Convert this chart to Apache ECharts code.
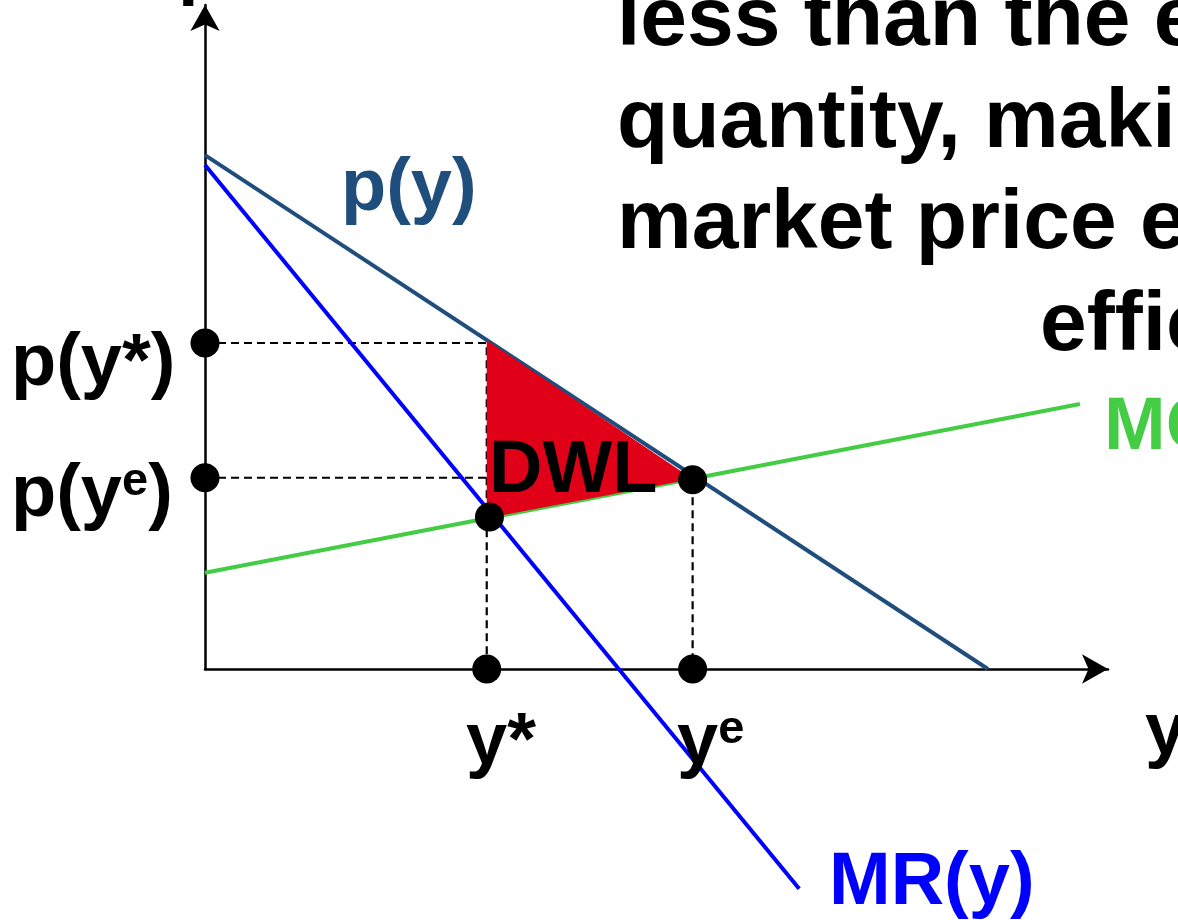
<!DOCTYPE html>
<html>
<head>
<meta charset="utf-8">
<script src="https://cdn.jsdelivr.net/npm/echarts@6/dist/echarts.min.js"></script>
<style>
  html, body { margin: 0; padding: 0; background: #ffffff; }
  #chart { width: 1178px; height: 920px; }
</style>
</head>
<body>
<div id="chart"></div>
<script>
// ---- data (arbitrary units 0..100) ----
const xRange = [0, 100];
const yRange = [0, 100];
const demandPts = [[0, 77.4], [86.7, 0]];        // p(y)
const mrPts = [[0, 75.9], [65.8, -33.1]];        // MR(y)
const mcPts = [[0, 14.5], [96.9, 39.9]];         // MC
const yStar = 31.2, yE = 54.0;                   // quantities
const pStar = 49.1, pE = 28.8;                   // prices
const dwlVertices = [[31.2, 49.5], [54.0, 28.6], [31.2, 22.7]];
const axisDots = [[0, pStar], [0, pE], [yStar, 0], [yE, 0]];
const curveDots = [[31.5, 22.9], [54.0, 28.5]];
const dashStar = [[0, pStar], [yStar, pStar], [yStar, 0]];
const dashE = [[0, pE], [yE, pE], [yE, 0]];
const titleLines = ['less than the efficient', 'quantity, making the', 'market price exceed the', 'efficient market price.'];

const FONT = '"Liberation Sans", Arial, Helvetica, sans-serif';
const LBL = 74;
const chart = echarts.init(document.getElementById('chart'), null, { renderer: 'canvas' });

function txt(text, x, baseline, size, color) {
  return {
    type: 'text', z: 100,
    style: {
      text: text, x: x, y: baseline - 0.22 * size,
      fill: color, font: 'bold ' + size + 'px ' + FONT,
      align: 'left', verticalAlign: 'middle'
    }
  };
}
function supTxt(main, sup, tail, x, baseline, color) {
  return {
    type: 'text', z: 100,
    style: {
      text: '{b|' + main + '}{s|' + sup + '}{b|' + tail + '}',
      x: x, y: baseline - 0.22 * LBL, align: 'left', verticalAlign: 'middle',
      rich: {
        b: { fontSize: LBL, lineHeight: LBL, fontWeight: 'bold', fontFamily: FONT, fill: color, color: color },
        s: { fontSize: 47, lineHeight: 47, fontWeight: 'bold', fontFamily: FONT, fill: color, color: color, verticalAlign: 'top' }
      }
    }
  };
}

const lineCommon = { type: 'line', symbol: 'none', clip: false, silent: true, z: 2 };
const axisCommon = {
  type: 'value',
  axisLine: { show: true, onZero: false, symbol: ['none', 'arrow'], symbolSize: [22, 26],
    lineStyle: { color: '#000', width: 2.5 } },
  axisTick: { show: false }, axisLabel: { show: false }, splitLine: { show: false }
};

chart.setOption({
  animation: false,
  backgroundColor: '#ffffff',
  grid: { left: 205, top: 5, width: 903, height: 664, containLabel: false },
  xAxis: Object.assign({}, axisCommon, { min: xRange[0], max: xRange[1] }),
  yAxis: Object.assign({}, axisCommon, { min: yRange[0], max: yRange[1] }),
  series: [
    Object.assign({}, lineCommon, { name: 'dashStar', data: dashStar, lineStyle: { color: '#000', width: 2.2, type: [8, 5] } }),
    Object.assign({}, lineCommon, { name: 'dashE', data: dashE, lineStyle: { color: '#000', width: 2.2, type: [8, 5] } }),
    Object.assign({}, lineCommon, { name: 'MC', data: mcPts, lineStyle: { color: '#44cc44', width: 4 } }),
    Object.assign({}, lineCommon, { name: 'p(y)', data: demandPts, lineStyle: { color: '#1f4e7c', width: 4 } }),
    Object.assign({}, lineCommon, { name: 'MR(y)', data: mrPts, lineStyle: { color: '#0000ff', width: 4 } }),
    {
      type: 'custom', name: 'DWL', z: 3, silent: true, clip: false,
      data: [dwlVertices[0]],
      renderItem: function (params, api) {
        const pts = dwlVertices.map(function (p) { return api.coord(p); });
        return { type: 'polygon', shape: { points: pts }, style: { fill: '#e00018' } };
      }
    },
    { type: 'scatter', name: 'axisDots', data: axisDots, symbol: 'circle', symbolSize: 29, clip: false, silent: true, z: 5,
      itemStyle: { color: '#000', opacity: 1 } },
    { type: 'scatter', name: 'curveDots', data: curveDots, symbol: 'circle', symbolSize: 29, clip: false, silent: true, z: 5,
      itemStyle: { color: '#000', opacity: 1 } }
  ],
  graphic: [
    txt(titleLines[0], 617, 40, 84, '#000'),
    txt(titleLines[1], 617, 142, 84, '#000'),
    txt(titleLines[2], 617, 243, 84, '#000'),
    txt(titleLines[3], 1040, 345, 84, '#000'),
    txt('p', 178, -13, LBL, '#000'),
    txt('p(y)', 341, 206, LBL, '#1f4e7c'),
    txt('p(y*)', 11, 381, LBL, '#000'),
    supTxt('p(y', 'e', ')', 11, 512, '#000'),
    txt('DWL', 489, 488, LBL, '#000'),
    txt('MC', 1104, 445, LBL, '#44cc44'),
    txt('y*', 466, 760, LBL, '#000'),
    supTxt('y', 'e', '', 677, 760, '#000'),
    txt('y', 1145, 750, LBL, '#000'),
    txt('MR(y)', 829, 900, LBL, '#0000ff')
  ]
});
</script>
</body>
</html>
